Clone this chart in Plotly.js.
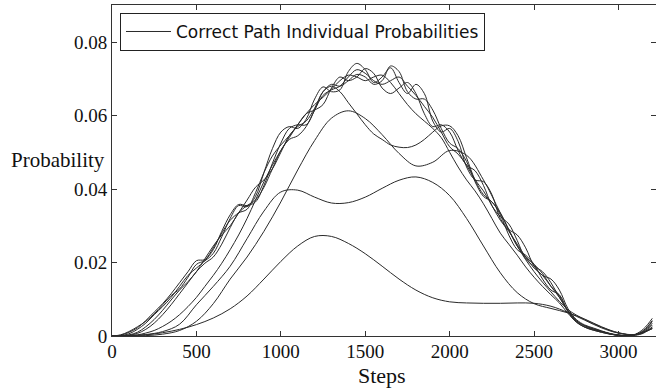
<!DOCTYPE html>
<html>
<head>
<meta charset="utf-8">
<script src="https://cdn.plot.ly/plotly-3.0.1.min.js"></script>
<style>
html,body{margin:0;padding:0;background:#fff;}
#chart{width:656px;height:392px;}
</style>
</head>
<body>
<div id="chart"></div>
<script>
// Steps (x) for smooth curves and for wavy curves
var steps100 = [0,100,200,300,400,500,600,700,800,900,1000,1100,1200,1300,1400,1500,1600,1700,1800,1900,2000,2100,2200,2300,2400,2500,2600,2700,2800,2900,3000,3100,3200];
var steps50 = [0,50,100,150,200,250,300,350,400,450,500,550,600,650,700,750,800,850,900,950,1000,1050,1100,1150,1200,1250,1300,1350,1400,1450,1500,1550,1600,1650,1700,1750,1800,1850,1900,1950,2000,2050,2100,2150,2200,2250,2300,2350,2400,2450,2500,2550,2600,2650,2700,2750,2800,2850,2900,2950,3000,3050,3100,3150,3200];

// Smooth paths (sampled every 100 steps)
var pathA = [0,0.0001,0.0003,0.0009,0.0018,0.0031,0.0049,0.0074,0.0109,0.0155,0.0203,0.0245,0.0271,0.0271,0.0252,0.0224,0.019,0.0155,0.0125,0.0104,0.0093,0.009,0.0089,0.0089,0.009,0.0089,0.0081,0.0064,0.0043,0.0022,0.0008,0.0004,0.0022];
var pathB = [0,0.0001,0.0004,0.0012,0.0032,0.0085,0.0135,0.019,0.0265,0.034,0.0392,0.0397,0.0378,0.0362,0.0363,0.0378,0.0402,0.0424,0.0433,0.0418,0.0382,0.032,0.0245,0.0172,0.0118,0.0088,0.0075,0.0063,0.0046,0.0025,0.0009,0.0004,0.002];
var pathC = [0,0,0.0001,0.0005,0.0015,0.004,0.0088,0.0155,0.0215,0.0285,0.0365,0.0452,0.0532,0.0593,0.0613,0.0592,0.0548,0.0497,0.0463,0.0473,0.0505,0.0492,0.0425,0.0335,0.0245,0.0175,0.012,0.0072,0.0045,0.0024,0.0008,0.0004,0.002];

// Wavy paths (sampled every 50 steps)
var pathW1 = [0,0.0003,0.0012,0.0025,0.004,0.006,0.0085,0.011,0.0128,0.016,0.0195,0.0205,0.0225,0.027,0.032,0.0355,0.0352,0.038,0.0445,0.051,0.0555,0.057,0.0565,0.059,0.0645,0.0678,0.0665,0.067,0.072,0.0742,0.0725,0.069,0.0705,0.073,0.069,0.066,0.0685,0.066,0.0585,0.0555,0.0565,0.053,0.046,0.0425,0.042,0.0385,0.032,0.029,0.0275,0.024,0.019,0.0165,0.0155,0.0125,0.0075,0.0045,0.003,0.0022,0.0014,0.0007,0.0003,0.0001,0.0005,0.002,0.0048];
var pathW2 = [0,0.0001,0.0006,0.0018,0.0035,0.0058,0.008,0.0105,0.0135,0.0165,0.0185,0.0205,0.024,0.028,0.0315,0.0335,0.0345,0.039,0.0445,0.049,0.052,0.0545,0.0575,0.0605,0.0615,0.063,0.0675,0.0705,0.0695,0.0705,0.0728,0.0715,0.0675,0.066,0.0675,0.069,0.066,0.0605,0.057,0.0575,0.0555,0.0505,0.0465,0.045,0.041,0.0355,0.0325,0.0305,0.026,0.021,0.019,0.0175,0.0145,0.0105,0.007,0.0042,0.0028,0.002,0.0013,0.0006,0.0002,0.0001,0.0004,0.0016,0.0042];
var pathW3 = [0,0,0.0003,0.001,0.0025,0.0045,0.007,0.0098,0.0125,0.0148,0.0175,0.021,0.0245,0.0275,0.03,0.0335,0.037,0.0405,0.0425,0.0455,0.05,0.0545,0.057,0.0585,0.062,0.0665,0.0685,0.068,0.0695,0.0712,0.0705,0.0685,0.0695,0.0735,0.072,0.0665,0.0645,0.0645,0.0615,0.0565,0.0525,0.051,0.0475,0.042,0.038,0.0365,0.033,0.0275,0.0235,0.022,0.0195,0.0155,0.0125,0.0112,0.0068,0.004,0.0025,0.0018,0.0012,0.0006,0.0002,0.0001,0.0003,0.0012,0.0035];
var pathW4 = [0,0.0002,0.001,0.0022,0.0042,0.0065,0.0088,0.0115,0.0145,0.0175,0.0205,0.0208,0.0235,0.0285,0.033,0.0358,0.0355,0.0365,0.041,0.047,0.0525,0.0565,0.0575,0.0575,0.0615,0.0665,0.068,0.0665,0.0635,0.0605,0.0575,0.055,0.0535,0.052,0.0514,0.0513,0.052,0.0535,0.0555,0.0572,0.0572,0.0545,0.0485,0.0425,0.0385,0.0365,0.0335,0.029,0.0245,0.0215,0.0195,0.017,0.0135,0.0105,0.0068,0.0042,0.0028,0.0019,0.0012,0.0006,0.0002,0.0001,0.0004,0.0014,0.004];
var pathW5 = [0,0,0.0002,0.0007,0.0018,0.0035,0.0058,0.0085,0.0115,0.0145,0.0175,0.0198,0.0215,0.025,0.0295,0.0335,0.0355,0.037,0.0405,0.0455,0.0505,0.0535,0.0545,0.057,0.0615,0.0655,0.067,0.068,0.0705,0.0725,0.0715,0.0695,0.0685,0.0695,0.0705,0.068,0.0655,0.0625,0.0595,0.0555,0.0515,0.0495,0.0465,0.0425,0.0395,0.0355,0.0315,0.0285,0.025,0.0215,0.0185,0.0165,0.0135,0.011,0.0066,0.0038,0.0024,0.0016,0.001,0.0005,0.0002,0.0001,0.0003,0.001,0.003];
var pathW6 = [0,0,0.0001,0.0003,0.0008,0.0015,0.0026,0.004,0.0058,0.008,0.0105,0.0135,0.0165,0.0198,0.0235,0.0275,0.032,0.037,0.042,0.0465,0.0505,0.054,0.0575,0.0605,0.063,0.065,0.0672,0.0695,0.071,0.0705,0.0695,0.0705,0.071,0.069,0.066,0.063,0.0605,0.0585,0.0565,0.054,0.05,0.046,0.0425,0.0395,0.036,0.032,0.028,0.025,0.022,0.0188,0.016,0.0135,0.0112,0.009,0.0062,0.0038,0.0024,0.0016,0.001,0.0005,0.0002,0.0001,0.0002,0.0008,0.0025];

var xTickVals = [0,500,1000,1500,2000,2500,3000];
var yTickVals = [0,0.02,0.04,0.06,0.08];
var yTickText = ["0","0.02","0.04","0.06","0.08"];
var legendLabel = "Correct Path Individual Probabilities";
var xTitle = "Steps";
var yTitle = "Probability";

var serif = 'Liberation Serif, Times New Roman, serif';
var lineStyle = {color:'#2a2a2a', width:1, shape:'spline', smoothing:1};

var series = [
  {x:steps50, y:pathW1}, {x:steps50, y:pathW2}, {x:steps50, y:pathW3},
  {x:steps50, y:pathW4}, {x:steps50, y:pathW5}, {x:steps50, y:pathW6},
  {x:steps100, y:pathC}, {x:steps100, y:pathB}, {x:steps100, y:pathA}
];
var traces = series.map(function(s, i){
  return {x:s.x, y:s.y, type:'scatter', mode:'lines', line:lineStyle,
          name:legendLabel, showlegend:(i===0), hoverinfo:'skip'};
});

function axisBase(){
  return {
    showgrid:false, zeroline:false, showline:true, linecolor:'#333', linewidth:1,
    mirror:'ticks', ticks:'inside', ticklen:5, tickwidth:1, tickcolor:'#333',
    tickfont:{family:serif, size:19, color:'#111'}
  };
}

var layout = {
  width:656, height:392,
  margin:{l:112, r:0, t:5, b:56},
  font:{family:serif, size:19, color:'#111'},
  paper_bgcolor:'#fff', plot_bgcolor:'#fff',
  showlegend:true,
  legend:{x:0.0147, y:0.976, xanchor:'left', yanchor:'top',
          bordercolor:'#222', borderwidth:1, bgcolor:'#fff',
          font:{family:'DejaVu Sans', size:17, color:'#111'},
          itemwidth:45},
  xaxis:Object.assign(axisBase(), {
    range:[0,3222], tickvals:xTickVals, ticklabelstandoff:-2
  }),
  yaxis:Object.assign(axisBase(), {
    range:[0,0.0901], tickvals:yTickVals, ticktext:yTickText, ticklabelstandoff:0
  }),
  annotations:[{
    text:yTitle, xref:'paper', yref:'paper', x:-0.01, y:0.532,
    xanchor:'right', yanchor:'middle', showarrow:false,
    font:{family:serif, size:21, color:'#111'}
  },{
    text:xTitle, xref:'paper', yref:'paper', x:0.496, y:-0.118,
    xanchor:'center', yanchor:'middle', showarrow:false,
    font:{family:serif, size:22, color:'#111'}
  }]
};

Plotly.newPlot('chart', traces, layout, {displayModeBar:false, staticPlot:true});
</script>
</body>
</html>
